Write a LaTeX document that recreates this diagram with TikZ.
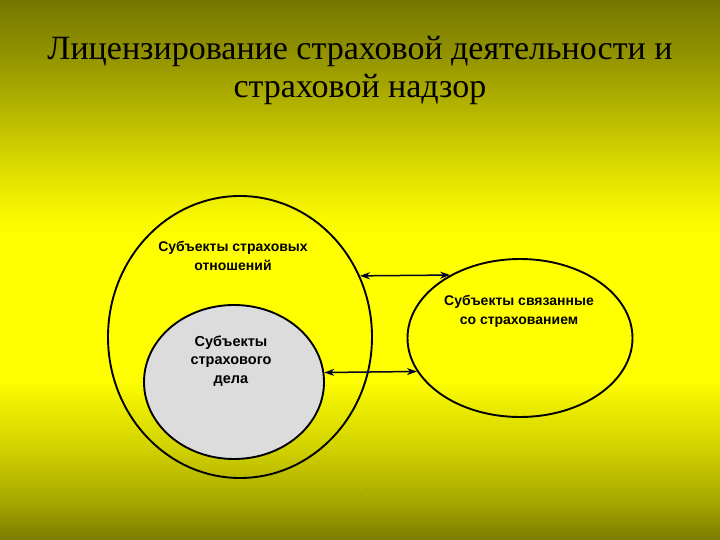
\documentclass[tikz,border=0pt]{standalone}
\usepackage{fontspec}
\setmainfont{Liberation Serif}
\newfontfamily\arialfont{Liberation Sans}
\usetikzlibrary{shapes.geometric,arrows.meta}
\definecolor{bgA}{RGB}{118,118,0}
\definecolor{bgB}{RGB}{150,150,0}
\definecolor{bgC}{RGB}{188,188,0}
\definecolor{bgD}{RGB}{228,228,0}
\definecolor{bgE}{RGB}{250,250,0}
\definecolor{bgY}{RGB}{255,255,0}
\definecolor{bgG}{RGB}{240,240,0}
\definecolor{bgH}{RGB}{208,208,0}
\definecolor{bgI}{RGB}{168,168,0}
\definecolor{bgJ}{RGB}{124,124,0}
\definecolor{grayfill}{RGB}{220,220,220}
\pgfdeclareverticalshading{slidebg}{100bp}{color(0bp)=(bgJ); color(25bp)=(bgJ); color(28.7bp)=(bgI); color(33.3bp)=(bgH); color(38bp)=(bgG); color(39.8bp)=(bgY); color(52.8bp)=(bgY); color(54.6bp)=(bgE); color(58.3bp)=(bgD); color(63.9bp)=(bgC); color(69.4bp)=(bgB); color(75bp)=(bgA); color(100bp)=(bgA)}
\tikzset{
  ring/.style={ellipse, draw=black, line width=1.9pt, inner sep=0pt},
  lbl/.style={font=\arialfont\bfseries\fontsize{14}{19}\selectfont, align=center, inner sep=0pt},
  biarrow/.style={{Stealth[length=10pt,width=7pt]}-{Stealth[length=10pt,width=7pt]}, line width=1.5pt, draw=black!85!blue},
  titletext/.style={font=\fontsize{34}{38}\selectfont, align=center, inner sep=0pt}
}
\begin{document}
\begin{tikzpicture}[x=1pt,y=-1pt]
\useasboundingbox (0,0) rectangle (720,540);
\shade[shading=slidebg] (0,0) rectangle (720,540);
\node[titletext, anchor=base] (title) at (360,98) {Лицензирование страховой деятельности и\\страховой надзор};
\node[ring, minimum width=264pt, minimum height=282pt] (big) at (240,337) {};
\node[ring, fill=grayfill, minimum width=180pt, minimum height=154pt] (inner) at (234,382) {};
\node[ring, minimum width=225pt, minimum height=158pt] (right) at (520,338) {};
\node[lbl] (lbig) at (233,256) {Субъекты страховых\\отношений};
\node[lbl] (lright) at (519,311) {Субъекты связанные\\со страхованием};
\node[lbl, font=\arialfont\bfseries\fontsize{14.5}{18.5}\selectfont] (linner) at (231,361) {Субъекты\\страхового\\дела};
\draw[biarrow] (big.27) -- (right.138.3);
\draw[biarrow] (inner.6.4) -- (right.198.5);
\node[font=\arialfont\fontsize{5}{5}\selectfont, inner sep=0pt] (dot) at (366,490) {.};
\end{tikzpicture}
\end{document}
